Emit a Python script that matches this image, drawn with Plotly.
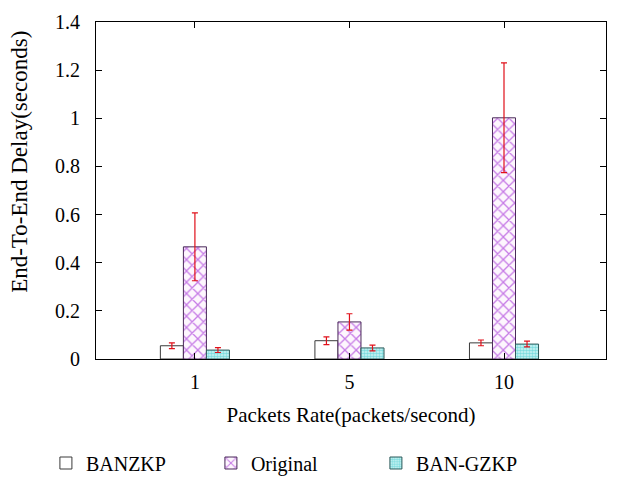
import plotly.graph_objects as go

categories = ["1", "5", "10"]
series_names = ["BANZKP", "Original", "BAN-GZKP"]
banzkp = [0.055, 0.076, 0.067]
banzkp_err = [0.012, 0.016, 0.012]
original = [0.466, 0.154, 1.002]
original_err = [0.141, 0.034, 0.228]
bangzkp = [0.037, 0.046, 0.062]
bangzkp_err = [0.010, 0.012, 0.012]
y_ticks = [0, 0.2, 0.4, 0.6, 0.8, 1.0, 1.2, 1.4]
y_tick_labels = ["0", "0.2", "0.4", "0.6", "0.8", "1", "1.2", "1.4"]
y_title = "End-To-End Delay(seconds)"
x_title = "Packets Rate(packets/second)"

FONT = "Liberation Serif"
OUTLINE = "#3a3a3a"
ERR = "#e0101a"

def err(vals):
    return dict(type="data", array=vals, visible=True, color=ERR, thickness=1.2, width=3)

fig = go.Figure()
fig.add_trace(go.Bar(
    x=categories, y=banzkp, name=series_names[0], error_y=err(banzkp_err),
    marker=dict(color="white", line=dict(color=OUTLINE, width=1)),
))
fig.add_trace(go.Bar(
    x=categories, y=original, name=series_names[1], error_y=err(original_err),
    marker=dict(color="white", line=dict(color="#4a2a5a", width=1),
                pattern=dict(shape="x", fgcolor="#9000d0", bgcolor="#fdf6fd", size=8, solidity=0.3)),
))
fig.add_trace(go.Bar(
    x=categories, y=bangzkp, name=series_names[2], error_y=err(bangzkp_err),
    marker=dict(color="white", line=dict(color="#2e5a5a", width=1),
                pattern=dict(shape=".", fgcolor="#28c4c8", bgcolor="#d0f4f4", size=3, solidity=0.55)),
))

# page body has an 8px margin, so the figure is drawn 8px smaller and offset
fig.update_layout(
    width=632, height=472,
    paper_bgcolor="white", plot_bgcolor="white",
    margin=dict(l=88, r=34, t=14, b=121, autoexpand=False),
    barmode="group", bargap=0.553, bargroupgap=0,
    font=dict(family=FONT, size=20, color="black"),
    showlegend=True,
    legend=dict(orientation="h", xref="container", yref="container",
                x=0.06, y=0.036, xanchor="left", yanchor="middle",
                entrywidthmode="pixels", entrywidth=120,
                font=dict(family=FONT, size=20, color="black"),
                bgcolor="rgba(0,0,0,0)"),
    xaxis=dict(
        type="category", range=[-0.64, 2.66],
        showline=True, linecolor="black", linewidth=1, mirror="ticks",
        ticks="inside", ticklen=6, tickcolor="black",
        showgrid=False, zeroline=False,
        tickfont=dict(family=FONT, size=20), ticklabelstandoff=5,
        title=dict(text=x_title, font=dict(family=FONT, size=21), standoff=15),
    ),
    yaxis=dict(
        range=[0, 1.4], tickvals=y_ticks, ticktext=y_tick_labels,
        showline=True, linecolor="black", linewidth=1, mirror="ticks",
        ticks="inside", ticklen=6, tickcolor="black",
        showgrid=False, zeroline=False,
        tickfont=dict(family=FONT, size=20), ticklabelstandoff=11,
    ),
    annotations=[dict(
        text=y_title, textangle=-90, showarrow=False,
        xref="paper", yref="paper", x=-0.149, y=0.585,
        xanchor="center", yanchor="middle",
        font=dict(family=FONT, size=23, color="black"),
    )],
)

fig.write_html("out.html")
